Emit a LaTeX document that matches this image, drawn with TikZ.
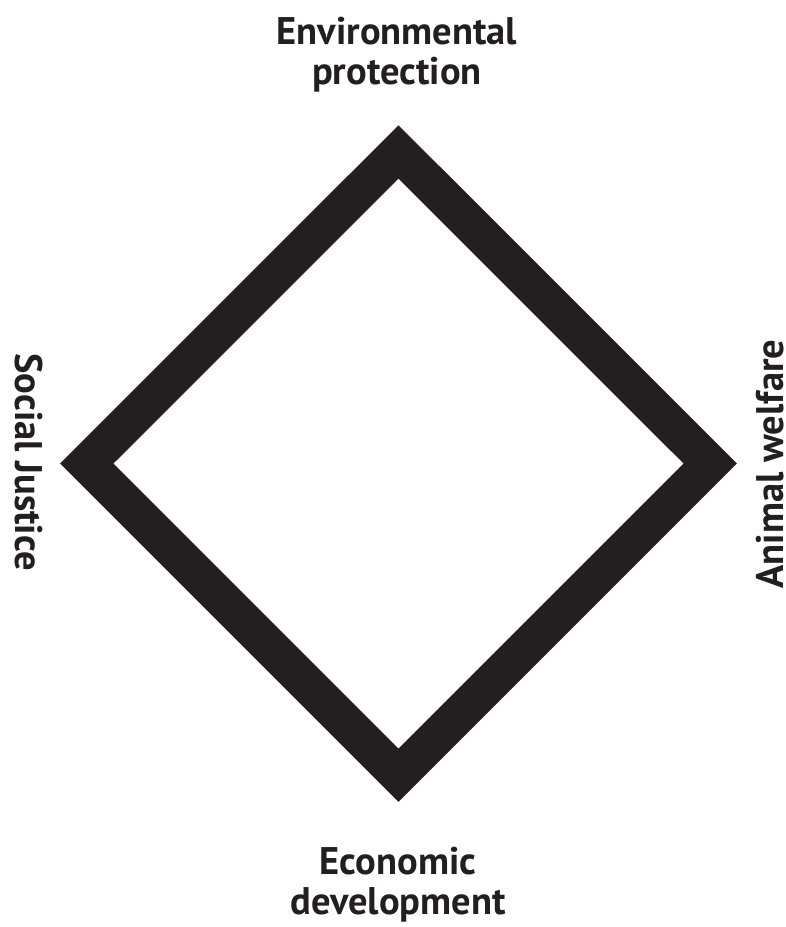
\documentclass[tikz,border=0pt]{standalone}
\usepackage{fontspec}
\setmainfont{PT Sans}[UprightFont=* Bold]
\definecolor{ink}{HTML}{231F20}
\begin{document}
\begin{tikzpicture}[x=1pt,y=1pt,
  lbl/.style={font=\fontsize{38.5}{40}\selectfont, text=ink, inner sep=0pt, align=center}]
\useasboundingbox (0,0) rectangle (786,-927);
\coordinate (t) at (398.5,-152);
\coordinate (l) at (86.75,-463.5);
\coordinate (r) at (710.25,-463.5);
\coordinate (b) at (398.5,-775.25);
\draw[ink, line width=37.8pt, line join=miter] (t) -- (r) -- (b) -- (l) -- cycle;
\node[lbl, anchor=base] (env) at (397,-84) {Environmental\\protection};
\node[lbl, anchor=base] (eco) at (398,-914) {Economic\\development};
\node[lbl, rotate=-90, anchor=base] (soc) at (16,-462) {Social Justice};
\node[lbl, rotate=90, anchor=base] (ani) at (783,-464) {Animal welfare};
\end{tikzpicture}
\end{document}
